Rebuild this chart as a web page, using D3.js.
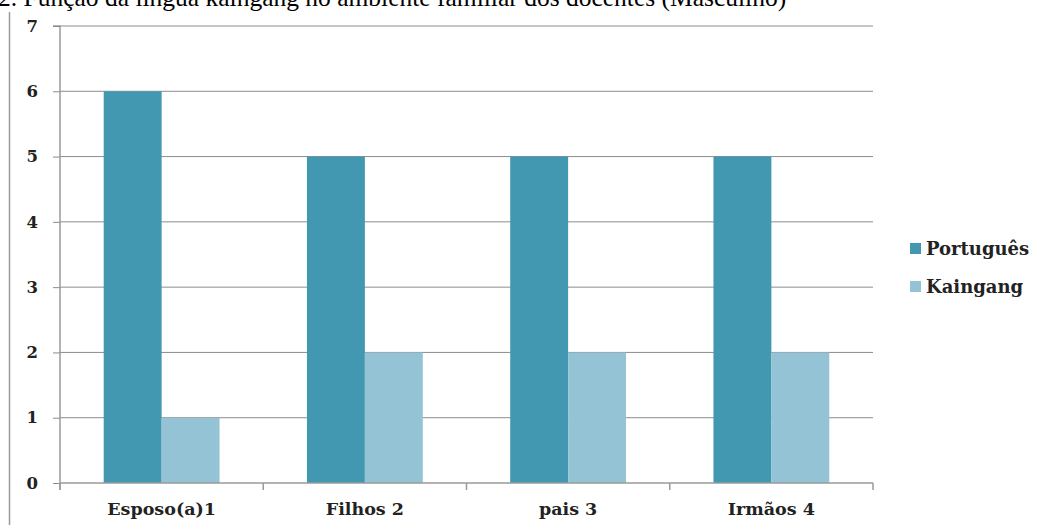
<!DOCTYPE html>
<html><head><meta charset="utf-8">
<script src="https://cdn.jsdelivr.net/npm/d3@7"></script>
<style>body{margin:0;background:#fff}svg{display:block}</style>
</head><body><svg id="c" width="1045" height="525"></svg>
<script>
const categories = ["Esposo(a)1", "Filhos 2", "pais 3", "Irmãos 4"];
const seriesNames = ["Português", "Kaingang"];
const portugues = [6, 5, 5, 5];
const kaingang = [1, 2, 2, 2];
const yTicks = [0, 1, 2, 3, 4, 5, 6, 7];
const colors = ["#4298b0", "#94c3d5"];
const title = "2. Função da língua kaingang no ambiente familiar dos docentes (Masculino)";

const svg = d3.select("#c");
const m = {left: 60, right: 873, top: 26, bottom: 483};
const serif = "'DejaVu Serif', 'Liberation Serif', serif";

svg.append("text").attr("x", -2).attr("y", 6).attr("font-family", "'Liberation Serif', serif")
  .attr("font-size", 25.5).attr("fill", "#000").text(title);
svg.append("line").attr("x1", 9.5).attr("x2", 9.5).attr("y1", 12).attr("y2", 525).attr("stroke", "#9a9a9a").attr("stroke-width", 1.5);

const x = d3.scaleBand().domain(categories).range([m.left, m.right]).paddingInner(0.43).paddingOuter(0.215);
const xs = d3.scaleBand().domain(seriesNames).range([0, x.bandwidth()]);
const y = d3.scaleLinear().domain([0, 7]).range([m.bottom, m.top]);

// gridlines
svg.append("g").selectAll("line").data(yTicks.filter(d => d > 0)).join("line")
  .attr("x1", m.left).attr("x2", m.right).attr("y1", d => y(d)).attr("y2", d => y(d))
  .attr("stroke", "#8c8c8c").attr("stroke-width", 1);

// bars
const data = categories.map((c, i) => ({c, vals: [portugues[i], kaingang[i]]}));
const g = svg.append("g").selectAll("g").data(data).join("g").attr("transform", d => `translate(${x(d.c)},0)`);
g.selectAll("rect").data(d => d.vals.map((v, j) => ({s: seriesNames[j], v, j}))).join("rect")
  .attr("x", d => xs(d.s)).attr("width", xs.bandwidth())
  .attr("y", d => y(d.v)).attr("height", d => y(0) - y(d.v)).attr("fill", d => colors[d.j]);

// y axis
const ya = d3.axisLeft(y).tickValues(yTicks).tickSize(7).tickFormat(d3.format("d"));
const yg = svg.append("g").attr("transform", `translate(${m.left},0)`).call(ya);
yg.select(".domain").attr("stroke", "#9a9a9a").attr("stroke-width", 1.5).attr("d", `M-7,${m.top}H0V${m.bottom + 7}`);
yg.selectAll(".tick line").attr("stroke", "#8c8c8c");
yg.selectAll(".tick text").attr("x", -22).attr("font-family", serif).attr("font-weight", "bold")
  .attr("font-size", 16.5).attr("fill", "#222");

// x axis
const xEdges = d3.range(categories.length + 1).map(i => m.left + i * x.step());
const xg = svg.append("g");
xg.append("line").attr("x1", m.left).attr("x2", m.right).attr("y1", m.bottom).attr("y2", m.bottom)
  .attr("stroke", "#9a9a9a").attr("stroke-width", 1.5);
xg.selectAll("line.t").data(xEdges).join("line").attr("class", "t")
  .attr("x1", d => d).attr("x2", d => d).attr("y1", m.bottom).attr("y2", m.bottom + 7)
  .attr("stroke", "#9a9a9a").attr("stroke-width", 1.5);
xg.selectAll("text").data(categories).join("text")
  .attr("x", d => x(d) + x.bandwidth() / 2).attr("y", 515).attr("text-anchor", "middle")
  .attr("font-family", serif).attr("font-weight", "bold").attr("font-size", 17.5).attr("fill", "#222").text(d => d);

// legend
const lg = svg.append("g").selectAll("g").data(seriesNames).join("g")
  .attr("transform", (d, i) => `translate(910,${243 + i * 38})`);
lg.append("rect").attr("width", 11).attr("height", 11).attr("fill", (d, i) => colors[i]);
lg.append("text").attr("x", 16).attr("y", 12).attr("font-family", serif).attr("font-weight", "bold")
  .attr("font-size", 18).attr("fill", "#222").text(d => d);
</script></body></html>
